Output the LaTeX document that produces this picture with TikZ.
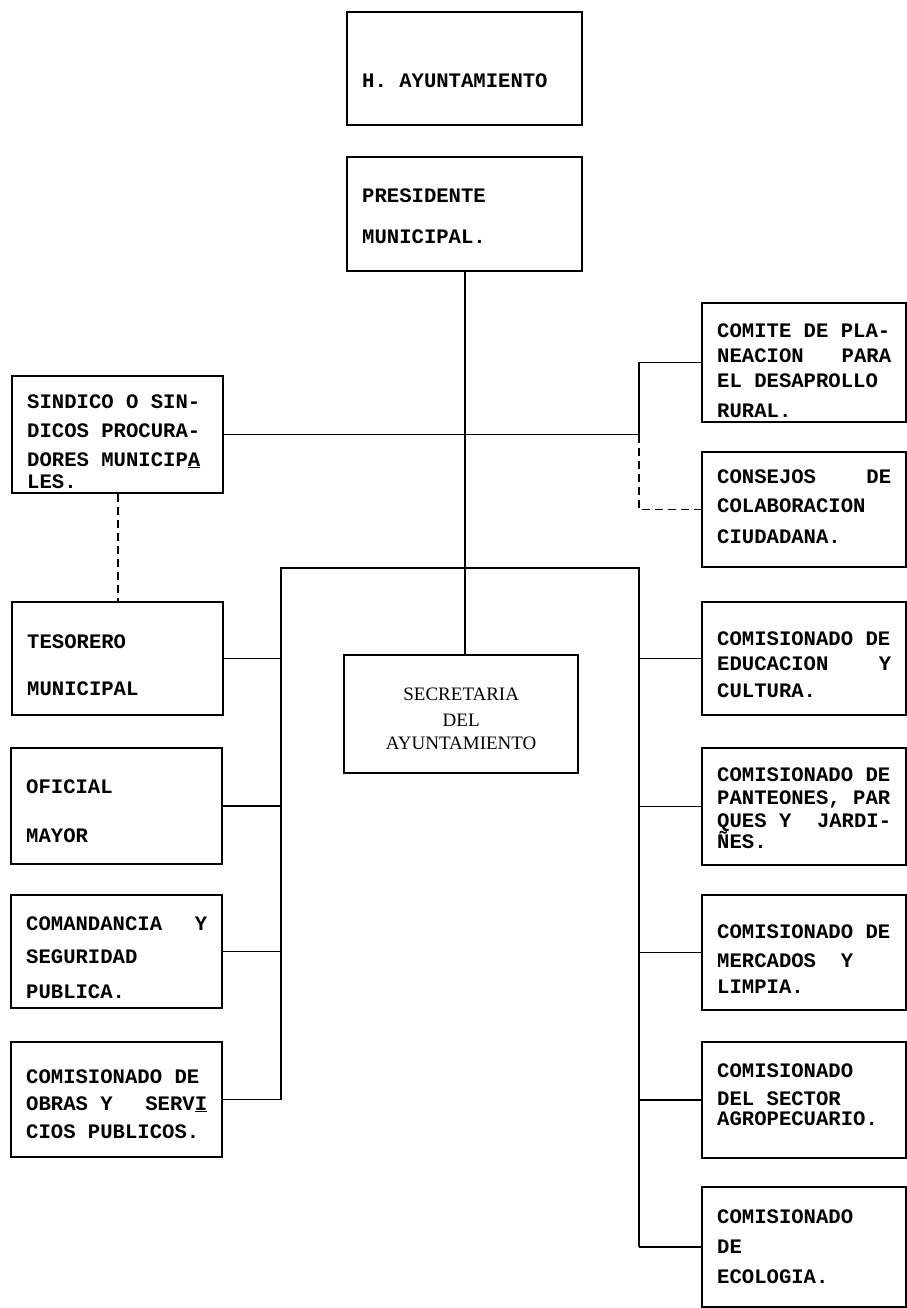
\documentclass[tikz,border=0pt]{standalone}
\usepackage{fontspec}
\newfontfamily\maquina{Liberation Mono}
\newfontfamily\imprenta{Liberation Serif}
% typewriter text, baselines set only by \\[gap]
\newcommand\letra{\maquina\bfseries\fontsize{20.6}{0}\selectfont
    \spaceskip=.6001em\xspaceskip=.6001em\lineskiplimit=-\maxdimen\relax}
\newcommand\letrasec{\imprenta\fontsize{19}{0}\selectfont\lineskiplimit=-\maxdimen\relax}

\begin{document}
\begin{tikzpicture}[
    x=1pt,y=-1pt,
    caja/.style={draw,line width=2.4pt,anchor=base west,
        inner xsep=15pt,inner ysep=0pt,align=flush left,font=\letra},
    sup/.style={caja,text width=205pt},
    izq/.style={caja,text width=181pt},
    der/.style={caja,text width=174pt},
    linea/.style={line width=1.8pt},
    rayas/.style={linea,dash pattern=on 8pt off 5pt},
    ]
    \useasboundingbox (0,0) rectangle (906,1308);
    % Top
    \node[sup,text height=76pt,text depth=37pt] (ayto) at (346,88)
        {H. AYUNTAMIENTO};
    \node[sup,text height=46pt,text depth=68pt] (pres) at (346,203)
        {PRESIDENTE\\[40pt]MUNICIPAL.};
    % Left column
    \node[izq,text height=32pt,text depth=85pt] (sind) at (11,408)
        {SINDICO O SIN-\\[29pt]DICOS PROCURA-\\[29pt]%
         DORES MUNICIP\underline{A}\\[22pt]LES.};
    \node[izq,text height=46pt,text depth=67pt] (teso) at (11,648)
        {TESORERO\\[47pt]MUNICIPAL};
    \node[izq,text height=45pt,text depth=71pt] (ofic) at (10,793)
        {OFICIAL\\[49pt]MAYOR};
    \node[izq,text height=35pt,text depth=78pt] (coma) at (10,930)
        {COMANDANCIA\hfill Y\\[33pt]SEGURIDAD\\[35pt]PUBLICA.};
    \node[izq,text height=41pt,text depth=74pt] (obras) at (10,1083)
        {COMISIONADO DE\\[27pt]OBRAS Y\hfill SERV\underline{I}\\[28pt]%
         CIOS PUBLICOS.};
    % Right column
    \node[der,text height=34pt,text depth=85pt] (comite) at (701,337)
        {COMITE DE PLA-\\[25pt]NEACION\hfill PARA\\[25pt]%
         EL DESAPROLLO\\[30pt]RURAL.};
    \node[der,text height=31pt,text depth=84pt] (consejos) at (701,483)
        {CONSEJOS\hfill DE\\[29pt]COLABORACION\\[31pt]CIUDADANA.};
    \node[der,text height=43pt,text depth=70pt] (educ) at (701,645)
        {COMISIONADO DE\\[25pt]EDUCACION\hfill Y\\[27pt]CULTURA.};
    \node[der,text height=33pt,text depth=84pt] (pant) at (701,781)
        {COMISIONADO DE\\[23pt]PANTEONES, PAR\\[23pt]%
         QUES Y\hfill JARDI-\\[21pt]ÑES.};
    \node[der,text height=43pt,text depth=72pt] (merc) at (701,938)
        {COMISIONADO DE\\[29pt]MERCADOS\ \ Y\\[26pt]LIMPIA.};
    \node[der,text height=35pt,text depth=81pt] (agro) at (701,1077)
        {COMISIONADO\\[28pt]DEL SECTOR\\[20pt]AGROPECUARIO.};
    \node[der,text height=36pt,text depth=84pt] (ecol) at (701,1223)
        {COMISIONADO\\[30pt]DE\\[30pt]ECOLOGIA.};
    % Centre
    \node[caja,align=flush center,font=\letrasec,text width=204pt,
          text height=45pt,text depth=73pt] (secr) at (343,700)
        {SECRETARIA\\[26pt]DEL\\[23pt]AYUNTAMIENTO};

    % Branch points
    \coordinate (ramaizq) at (281,568);
    \coordinate (ramader) at (639,568);
    % Connectors
    \draw[linea] (pres.south) -- (pres.south |- secr.north);
    \draw[linea] (sind.east) -- (sind.east -| ramader) |- (comite.west);
    \draw[rayas] (sind.east -| ramader) |- (consejos.west);
    \draw[rayas] (sind.south) -- (sind.south |- teso.north);
    \draw[linea] (ramaizq |- obras.east) -- (ramaizq) -- (ramader)
        -- (ramader |- ecol.west);
    \foreach \n in {teso,ofic,coma,obras}
        \draw[linea] (\n.east) -- (\n.east -| ramaizq);
    \foreach \n in {educ,pant,merc,agro,ecol}
        \draw[linea] (\n.west) -- (\n.west -| ramader);
\end{tikzpicture}
\end{document}
